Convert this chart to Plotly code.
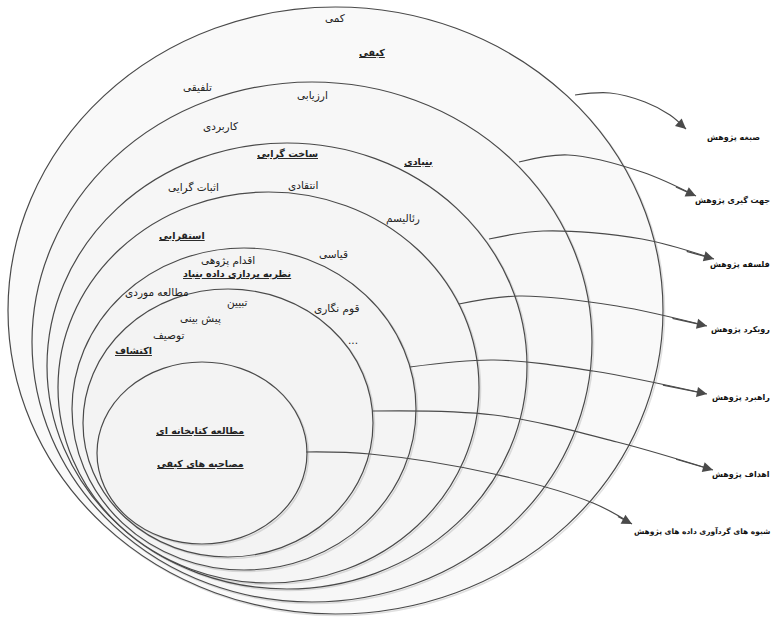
import plotly.graph_objects as go

# ---------------- data ----------------
layer_names = ["صبغه پژوهش", "جهت گیری پژوهش", "فلسفه پژوهش", "رویکرد پژوهش",
               "راهبرد پژوهش", "اهداف پژوهش", "شیوه های گردآوری داده های پژوهش"]

item_texts = ["کمی", "کیفی", "تلفیقی",
              "ارزیابی", "کاربردی", "بنیادی",
              "ساخت گرایی", "اثبات گرایی", "انتقادی", "رئالیسم",
              "استقرایی", "قیاسی",
              "اقدام پژوهی", "نظریه پردازی داده بنیاد", "مطالعه موردی", "قوم نگاری", "...",
              "تبیین", "پیش بینی", "توصیف", "اکتشاف",
              "مطالعه کتابخانه ای", "مصاحبه های کیفی"]
item_selected = [0, 1, 0,
                 0, 0, 1,
                 1, 0, 0, 0,
                 1, 0,
                 0, 1, 0, 0, 0,
                 0, 0, 0, 1,
                 1, 1]

# ---------------- geometry (pixel space of the picture) ----------------
W, H = 774, 617
# ellipse bounds: left, right, top, bottom (outer -> inner)
ell_left = [8, 32, 47, 58, 72, 83, 97]
ell_right = [663, 592, 527, 479, 416, 373, 307]
ell_top = [7, 82, 143, 192, 248, 289, 362]
ell_bottom = [614, 602, 589, 583, 570, 557, 544]

item_x = [335, 372, 197,
          312, 220, 418,
          287, 193, 303, 403,
          182, 333,
          228, 237, 157, 337, 353,
          237, 200, 168, 133,
          200, 200]
item_y = [18, 52, 87,
          95, 126, 161,
          154, 187, 185, 218,
          236, 254,
          260, 274, 292, 308, 340,
          302, 318, 335, 350,
          430, 463]

# arrow curves (one per layer)
arrow_x = [[575, 610, 645, 670, 686],
           [519, 568, 642, 696],
           [489, 543, 642, 714],
           [459, 519, 617, 707],
           [410, 494, 593, 707],
           [373, 494, 617, 713],
           [306, 370, 494, 593, 632]]
arrow_y = [[95, 93, 102, 115, 129],
           [162, 155, 172, 196],
           [239, 231, 239, 259],
           [304, 296, 306, 326],
           [367, 360, 371, 394],
           [411, 415, 442, 470],
           [452, 454, 474, 503, 524]]
label_x = [705, 772, 772, 772, 772, 772, 772]
label_y = [138, 200, 265, 330, 398, 475, 531]
label_anchor = ["left", "right", "right", "right", "right", "right", "right"]
label_size = [8, 8, 8, 8, 8, 8, 7.5]

LINE = "#4a4a4a"
FONT = "DejaVu Sans"

fig = go.Figure()

shapes = []
fills = ["#f9f9f9", "#f7f7f7", "#f6f6f6", "#f5f5f5", "#f4f4f4", "#f3f3f3", "#f3f3f3"]
for i in range(len(ell_left)):
    shapes.append(dict(type="circle", xref="x", yref="y",
                       x0=ell_left[i] + 1.5, x1=ell_right[i] + 1.5,
                       y0=ell_top[i] + 1.5, y1=ell_bottom[i] + 1.5,
                       line=dict(color="rgba(0,0,0,0.12)", width=1.6),
                       fillcolor="rgba(0,0,0,0)", layer="below"))
    shapes.append(dict(type="circle", xref="x", yref="y",
                       x0=ell_left[i], x1=ell_right[i], y0=ell_top[i], y1=ell_bottom[i],
                       line=dict(color=LINE, width=1.2), fillcolor=fills[i], layer="below"))

for i in range(len(arrow_x)):
    fig.add_trace(go.Scatter(x=arrow_x[i], y=arrow_y[i], mode="lines",
                             line=dict(color=LINE, width=1.2, shape="spline", smoothing=1.0),
                             hoverinfo="skip", showlegend=False))

annotations = []
for i in range(len(arrow_x)):
    annotations.append(dict(x=arrow_x[i][-1], y=arrow_y[i][-1],
                            ax=arrow_x[i][-2] + (arrow_x[i][-1] - arrow_x[i][-2]) * 0.6,
                            ay=arrow_y[i][-2] + (arrow_y[i][-1] - arrow_y[i][-2]) * 0.6,
                            xref="x", yref="y", axref="x", ayref="y",
                            showarrow=True, arrowhead=2, arrowsize=1.7, arrowwidth=1.2,
                            arrowcolor=LINE, text=""))
    annotations.append(dict(x=label_x[i], y=label_y[i], xref="x", yref="y",
                            text="<b>" + layer_names[i] + "</b>", showarrow=False,
                            xanchor=label_anchor[i], yanchor="middle",
                            font=dict(family=FONT, size=label_size[i], color="#111")))

for t, s, x, y in zip(item_texts, item_selected, item_x, item_y):
    txt = "<b><u>" + t + "</u></b>" if s else t
    annotations.append(dict(x=x, y=y, xref="x", yref="y", text=txt, showarrow=False,
                            xanchor="center", yanchor="middle",
                            font=dict(family=FONT, size=9.5 if s else 10.5, color="#222")))

fig.update_layout(width=W, height=H, margin=dict(l=0, r=0, t=0, b=0),
                  paper_bgcolor="white", plot_bgcolor="white",
                  xaxis=dict(range=[0, W], visible=False, fixedrange=True),
                  yaxis=dict(range=[H, 0], visible=False, fixedrange=True),
                  shapes=shapes, annotations=annotations, showlegend=False)

fig.write_html("out.html", config={"displayModeBar": False},
               post_script="document.body.style.margin='0';document.body.style.overflow='hidden';")
